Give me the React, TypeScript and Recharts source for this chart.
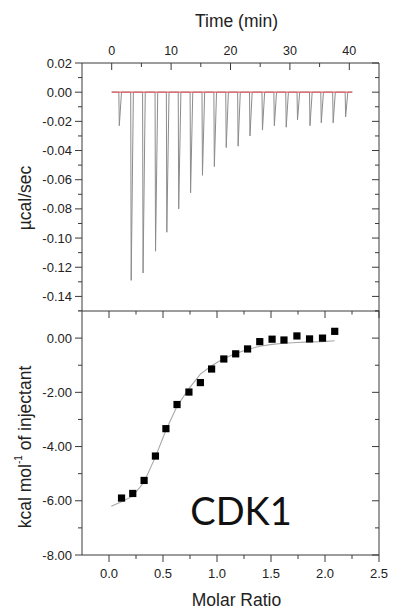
import React from 'react';
import { ComposedChart, Line, Scatter, XAxis, YAxis, ReferenceLine } from 'recharts';

// ---------- Data (top panel: raw thermogram) ----------
const injectionTimes = [1.2, 3.2, 5.2, 7.3, 9.2, 11.2, 13.2, 15.2, 17.2, 19.2, 21.2, 23.2, 25.3, 27.3, 29.3, 31.2, 33.3, 35.2, 37.2, 39.3];
const peakHeights = [-0.023, -0.129, -0.124, -0.109, -0.096, -0.08, -0.069, -0.057, -0.051, -0.038, -0.037, -0.03, -0.026, -0.023, -0.024, -0.019, -0.023, -0.021, -0.021, -0.017];
const baselineRange = [0, 40.5];
const timeTicks = [0, 5, 10, 15, 20, 25, 30, 35, 40];
const powerTicks = [0.02, 0.01, 0, -0.01, -0.02, -0.03, -0.04, -0.05, -0.06, -0.07, -0.08, -0.09, -0.1, -0.11, -0.12, -0.13, -0.14, -0.15];

// ---------- Data (bottom panel: integrated heats) ----------
const molarRatio = [0.116, 0.22, 0.325, 0.43, 0.527, 0.63, 0.74, 0.846, 0.95, 1.063, 1.173, 1.283, 1.396, 1.51, 1.62, 1.74, 1.857, 1.977, 2.09];
const heatPerInjection = [-5.9, -5.73, -5.25, -4.35, -3.34, -2.45, -1.99, -1.64, -1.14, -0.77, -0.58, -0.4, -0.13, -0.04, -0.07, 0.08, -0.03, 0.0, 0.25];
const fitRatio = [0.021, 0.116, 0.22, 0.325, 0.43, 0.527, 0.63, 0.74, 0.846, 0.95, 1.063, 1.173, 1.283, 1.396, 1.51, 1.62, 1.74, 1.857, 1.977, 2.09];
const fitHeat = [-6.2, -6.04, -5.83, -5.31, -4.38, -3.4, -2.51, -1.86, -1.33, -1.02, -0.75, -0.57, -0.42, -0.3, -0.23, -0.19, -0.16, -0.14, -0.13, -0.1];
const ratioTicks = [0, 0.25, 0.5, 0.75, 1, 1.25, 1.5, 1.75, 2, 2.25, 2.5];
const heatTicks = [1, 0, -1, -2, -3, -4, -5, -6, -7, -8];

// ---------- Built tables ----------
const trace: { t: number; v: number }[] = [{ t: baselineRange[0], v: 0 }];
injectionTimes.forEach((t, i) => {
  trace.push({ t, v: 0 });
  trace.push({ t: t + 0.08, v: peakHeights[i] });
  trace.push({ t: t + 0.45, v: 0 });
});
trace.push({ t: baselineRange[1], v: 0 });

const points = molarRatio.map((x, i) => ({ x, y: heatPerInjection[i] }));
const fit = fitRatio.map((x, i) => ({ x, y: fitHeat[i] }));

const FONT = '"Liberation Sans", Arial, sans-serif';
const AXIS = '#3a3a3a';
const TEXT = '#222';
const TICK_FS = 13;
const TITLE_FS = 17.5;

// ---------- Custom ticks ----------
const TopTimeTick = (p: any) => {
  const { x, y, payload } = p;
  const v = payload.value;
  const major = v % 10 === 0;
  return (
    <g>
      <line x1={x} y1={y} x2={x} y2={y + (major ? 7 : 4)} stroke={AXIS} />
      {major && (
        <text x={x} y={y - 8.5} textAnchor="middle" fontSize={12.5} fill={TEXT} fontFamily={FONT}>
          {v}
        </text>
      )}
    </g>
  );
};

const LeftPowerTick = (p: any) => {
  const { x, y, payload } = p;
  const v = payload.value;
  const major = Math.round(v * 100) % 2 === 0;
  return (
    <g>
      <line x1={x - (major ? 7 : 4)} y1={y} x2={x} y2={y} stroke={AXIS} />
      {major && (
        <text x={x - 10} y={y + 4.6} textAnchor="end" fontSize={TICK_FS} fill={TEXT} fontFamily={FONT}>
          {v.toFixed(2)}
        </text>
      )}
    </g>
  );
};

const RightInwardTick = (majorFn: (v: number) => boolean) => (p: any) => {
  const { x, y, payload } = p;
  const major = majorFn(payload.value);
  return <line x1={x - (major ? 7 : 4)} y1={y} x2={x} y2={y} stroke={AXIS} />;
};

const TopInwardTick = (majorFn: (v: number) => boolean) => (p: any) => {
  const { x, y, payload } = p;
  const major = majorFn(payload.value);
  return <line x1={x} y1={y} x2={x} y2={y + (major ? 7 : 3.5)} stroke={AXIS} />;
};

const isPowerMajor = (v: number) => Math.round(v * 100) % 2 === 0;
const isHeatMajor = (v: number) => Math.round(v) % 2 === 0;
const isRatioMajor = (v: number) => Math.round(v * 4) % 2 === 0;

const LeftHeatTick = (p: any) => {
  const { x, y, payload } = p;
  const v = payload.value;
  const major = isHeatMajor(v);
  return (
    <g>
      <line x1={x - (major ? 7 : 4)} y1={y} x2={x} y2={y} stroke={AXIS} />
      {major && (
        <text x={x - 10} y={y + 4.6} textAnchor="end" fontSize={TICK_FS} fill={TEXT} fontFamily={FONT}>
          {v.toFixed(2)}
        </text>
      )}
    </g>
  );
};

const BottomRatioTick = (p: any) => {
  const { x, y, payload } = p;
  const v = payload.value;
  const major = isRatioMajor(v);
  return (
    <g>
      <line x1={x} y1={y} x2={x} y2={y + (major ? 7 : 4)} stroke={AXIS} />
      {major && (
        <text x={x} y={y + 22.5} textAnchor="middle" fontSize={TICK_FS} fill={TEXT} fontFamily={FONT}>
          {v.toFixed(1)}
        </text>
      )}
    </g>
  );
};

const Square = (p: any) => {
  const { cx, cy } = p;
  if (cx == null || cy == null) return <g />;
  return <rect x={cx - 3.6} y={cy - 3.6} width={7.2} height={7.2} fill="#000" />;
};

const NoShape = () => <g />;

export default function App() {
  return (
    <div style={{ position: 'absolute', left: 0, top: 0, width: 401, height: 612, background: '#fff' }}>
      {/* Top panel */}
      <div style={{ position: 'absolute', left: 0, top: 0 }}>
        <ComposedChart width={401} height={311} data={trace} margin={{ top: 0, right: 11, bottom: 0, left: 0 }}>
          <XAxis
            xAxisId="t"
            dataKey="t"
            type="number"
            orientation="top"
            domain={[-5, 45]}
            ticks={timeTicks}
            interval={0}
            height={63}
            tickSize={0}
            tickMargin={0}
            tickLine={false}
            axisLine={{ stroke: AXIS }}
            tick={TopTimeTick}
            allowDataOverflow
            label={() => (
              <text x={236.5} y={27} textAnchor="middle" fontSize={TITLE_FS} fill={TEXT} fontFamily={FONT}>
                Time (min)
              </text>
            )}
          />
          <XAxis
            xAxisId="b"
            dataKey="t"
            type="number"
            orientation="bottom"
            domain={[-5, 45]}
            height={0}
            tick={false}
            tickLine={false}
            axisLine={{ stroke: AXIS }}
            allowDataOverflow
          />
          <YAxis
            yAxisId="p"
            type="number"
            domain={[-0.15, 0.02]}
            ticks={powerTicks}
            interval={0}
            width={82}
            tickSize={0}
            tickMargin={0}
            tickLine={false}
            axisLine={{ stroke: AXIS }}
            tick={LeftPowerTick}
            allowDataOverflow
            label={() => (
              <text
                x={25}
                y={198}
                transform="rotate(-90 25 198)"
                textAnchor="middle"
                dominantBaseline="central"
                fontSize={TITLE_FS}
                fill={TEXT}
                fontFamily={FONT}
              >
                µcal/sec
              </text>
            )}
          />
          <YAxis
            yAxisId="pr"
            orientation="right"
            type="number"
            domain={[-0.15, 0.02]}
            ticks={powerTicks}
            interval={0}
            width={11}
            tickSize={0}
            tickMargin={0}
            tickLine={false}
            axisLine={{ stroke: AXIS }}
            tick={RightInwardTick(isPowerMajor)}
            allowDataOverflow
          />
          <Line
            xAxisId="t"
            yAxisId="p"
            dataKey="v"
            type="linear"
            stroke="#8c8c8c"
            strokeWidth={1}
            dot={false}
            isAnimationActive={false}
          />
          <ReferenceLine
            xAxisId="t"
            yAxisId="p"
            segment={[
              { x: baselineRange[0], y: 0 },
              { x: baselineRange[1], y: 0 },
            ]}
            stroke="#e06060"
            strokeWidth={1.2}
          />
        </ComposedChart>
      </div>

      {/* Bottom panel */}
      <div style={{ position: 'absolute', left: 0, top: 310 }}>
        <ComposedChart width={401} height={302} margin={{ top: 0, right: 11, bottom: 0, left: 0 }}>
          <XAxis
            xAxisId="top"
            dataKey="x"
            type="number"
            orientation="top"
            domain={[-0.25, 2.5]}
            ticks={ratioTicks}
            interval={0}
            height={1}
            tickSize={0}
            tickMargin={0}
            tickLine={false}
            axisLine={{ stroke: AXIS }}
            tick={TopInwardTick(isRatioMajor)}
            allowDataOverflow
          />
          <XAxis
            xAxisId="m"
            dataKey="x"
            type="number"
            orientation="bottom"
            domain={[-0.25, 2.5]}
            ticks={ratioTicks}
            interval={0}
            height={57}
            tickSize={0}
            tickMargin={0}
            tickLine={false}
            axisLine={{ stroke: AXIS }}
            tick={BottomRatioTick}
            allowDataOverflow
            label={() => (
              <text x={236.5} y={296} textAnchor="middle" fontSize={TITLE_FS} fill={TEXT} fontFamily={FONT}>
                Molar Ratio
              </text>
            )}
          />
          <YAxis
            yAxisId="h"
            dataKey="y"
            type="number"
            domain={[-8, 1]}
            ticks={heatTicks}
            interval={0}
            width={82}
            tickSize={0}
            tickMargin={0}
            tickLine={false}
            axisLine={{ stroke: AXIS }}
            tick={LeftHeatTick}
            allowDataOverflow
            label={() => (
              <text
                x={25}
                y={137}
                transform="rotate(-90 25 137)"
                textAnchor="middle"
                dominantBaseline="central"
                fontSize={TITLE_FS}
                fill={TEXT}
                fontFamily={FONT}
              >
                kcal mol
                <tspan dy={-7} fontSize={10}>-1</tspan>
                <tspan dy={7}> of injectant</tspan>
              </text>
            )}
          />
          <YAxis
            yAxisId="hr"
            orientation="right"
            type="number"
            domain={[-8, 1]}
            ticks={heatTicks}
            interval={0}
            width={11}
            tickSize={0}
            tickMargin={0}
            tickLine={false}
            axisLine={{ stroke: AXIS }}
            tick={RightInwardTick(isHeatMajor)}
            allowDataOverflow
          />
          <Scatter
            xAxisId="m"
            yAxisId="h"
            data={fit}
            dataKey="y"
            line={{ stroke: '#a8a8a8', strokeWidth: 1.1 }}
            lineType="joint"
            shape={NoShape}
            isAnimationActive={false}
          />
          <Scatter
            xAxisId="m"
            yAxisId="h"
            data={points}
            dataKey="y"
            shape={Square}
            isAnimationActive={false}
          />
        </ComposedChart>
      </div>

      {/* Annotation */}
      <svg style={{ position: 'absolute', left: 0, top: 0, pointerEvents: 'none' }} width={401} height={612}>
        <text x={241} y={525} textAnchor="middle" fontSize={38} fill="#111" fontFamily="Lato, 'Open Sans', sans-serif">
          CDK1
        </text>
      </svg>
    </div>
  );
}
